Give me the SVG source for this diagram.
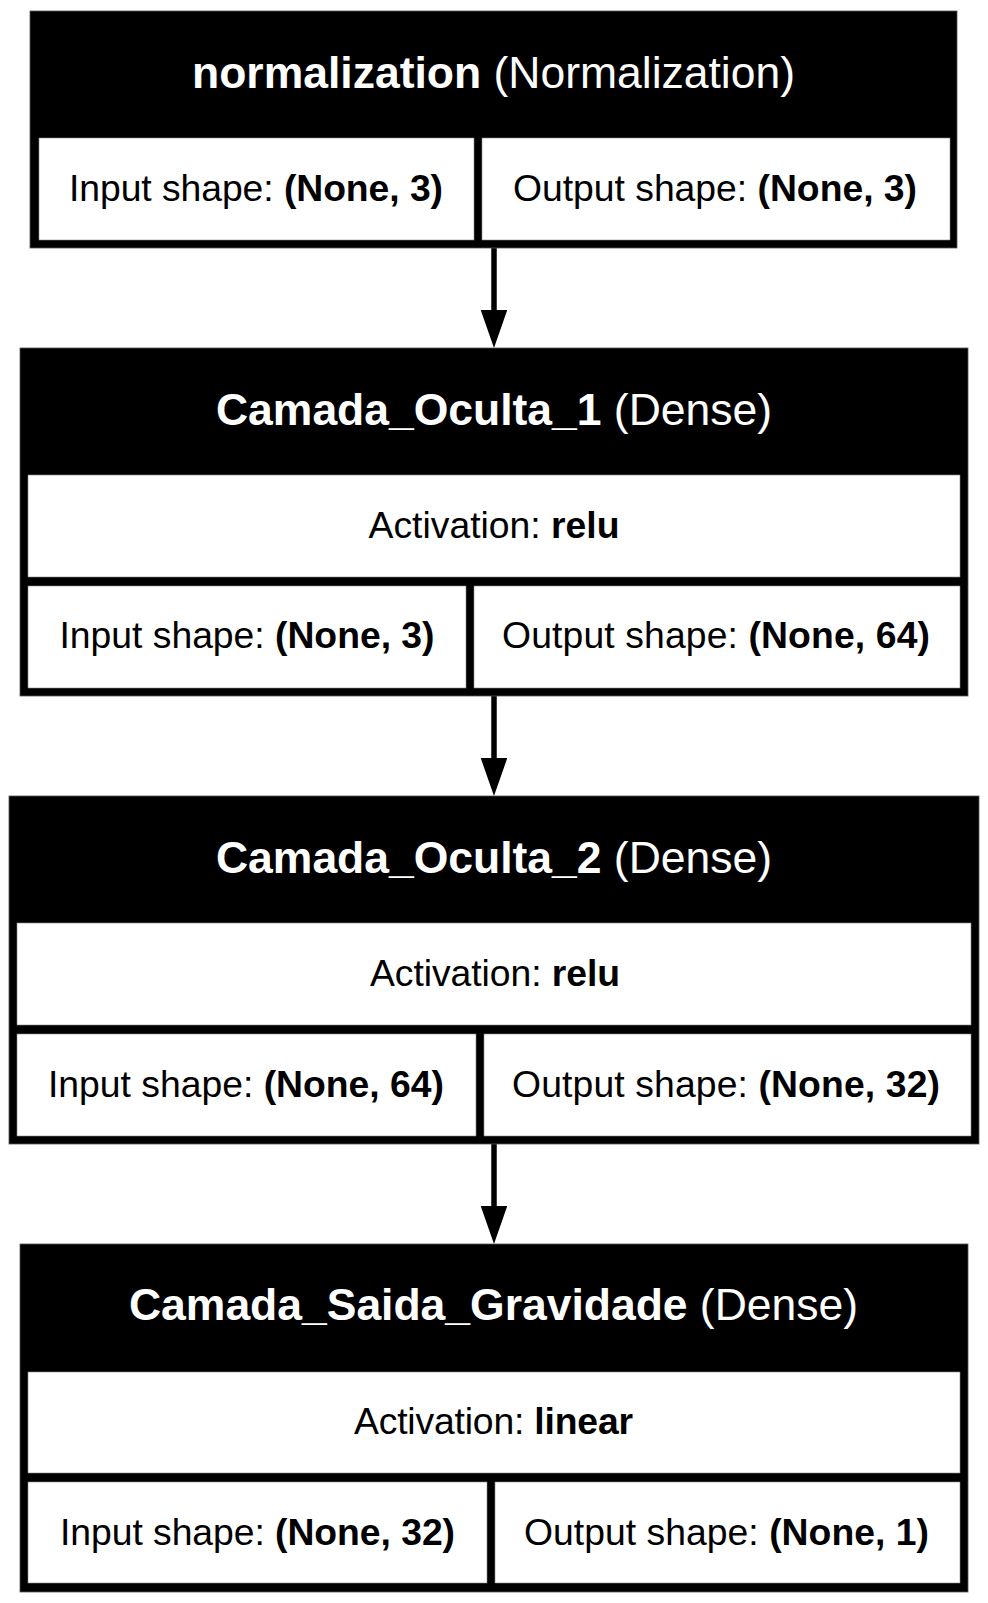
<svg xmlns="http://www.w3.org/2000/svg" width="988" height="1603" viewBox="0 0 988 1603">
<style>
.frame{fill:#000;stroke:#555;stroke-width:0.8}
.cell{fill:#fff;stroke:#888;stroke-width:0.6}
.hd{font-family:"Liberation Sans",Arial,sans-serif;font-size:44.5px;fill:#fff;text-anchor:middle}
.tx{font-family:"Liberation Sans",Arial,sans-serif;font-size:37.3px;fill:#000;text-anchor:middle}
.b{font-weight:bold}
.edge{stroke:#000;stroke-width:5.5;fill:none}
</style>
<defs>
<marker id="arrow" markerUnits="userSpaceOnUse" markerWidth="40" markerHeight="28" refX="0" refY="13.3" orient="auto">
<path d="M0,0 L38,13.3 L0,26.6 Z" fill="#000"/>
</marker>
</defs>
<rect width="988" height="1603" fill="#fff"/>

<g id="connectors">
<line class="edge" x1="494" y1="248" x2="494" y2="310" marker-end="url(#arrow)"/>
<line class="edge" x1="494" y1="696" x2="494" y2="758" marker-end="url(#arrow)"/>
<line class="edge" x1="494" y1="1144" x2="494" y2="1206" marker-end="url(#arrow)"/>
</g>

<g id="node-normalization">
<rect class="frame" x="30" y="11" width="927" height="237"/>
<rect class="cell" x="39" y="138" width="435" height="102"/>
<rect class="cell" x="482" y="138" width="468" height="102"/>
<text class="hd" x="493.5" y="88" textLength="603" lengthAdjust="spacing"><tspan class="b">normalization</tspan> (Normalization)</text>
<text class="tx" x="256" y="201" textLength="374" lengthAdjust="spacing">Input shape: <tspan class="b">(None, 3)</tspan></text>
<text class="tx" x="715" y="201" textLength="404" lengthAdjust="spacing">Output shape: <tspan class="b">(None, 3)</tspan></text>
</g>

<g id="node-camada-oculta-1">
<rect class="frame" x="20" y="348" width="948" height="348"/>
<rect class="cell" x="28" y="475" width="932" height="102"/>
<rect class="cell" x="28" y="586" width="438" height="102"/>
<rect class="cell" x="474" y="586" width="486" height="102"/>
<text class="hd" x="494" y="425" textLength="556" lengthAdjust="spacing"><tspan class="b">Camada_Oculta_1</tspan> (Dense)</text>
<text class="tx" x="494" y="538" textLength="251" lengthAdjust="spacing">Activation: <tspan class="b">relu</tspan></text>
<text class="tx" x="247" y="648" textLength="375" lengthAdjust="spacing">Input shape: <tspan class="b">(None, 3)</tspan></text>
<text class="tx" x="716" y="648" textLength="428" lengthAdjust="spacing">Output shape: <tspan class="b">(None, 64)</tspan></text>
</g>

<g id="node-camada-oculta-2">
<rect class="frame" x="9" y="796" width="970" height="348"/>
<rect class="cell" x="17" y="923" width="954" height="102"/>
<rect class="cell" x="17" y="1034" width="459" height="102"/>
<rect class="cell" x="484" y="1034" width="487" height="102"/>
<text class="hd" x="494" y="873" textLength="556" lengthAdjust="spacing"><tspan class="b">Camada_Oculta_2</tspan> (Dense)</text>
<text class="tx" x="495" y="986" textLength="250" lengthAdjust="spacing">Activation: <tspan class="b">relu</tspan></text>
<text class="tx" x="246" y="1097" textLength="396" lengthAdjust="spacing">Input shape: <tspan class="b">(None, 64)</tspan></text>
<text class="tx" x="726" y="1097" textLength="428" lengthAdjust="spacing">Output shape: <tspan class="b">(None, 32)</tspan></text>
</g>

<g id="node-camada-saida-gravidade">
<rect class="frame" x="20" y="1244" width="948" height="348"/>
<rect class="cell" x="28" y="1372" width="932" height="101"/>
<rect class="cell" x="28" y="1482" width="459" height="101"/>
<rect class="cell" x="495" y="1482" width="465" height="101"/>
<text class="hd" x="493.5" y="1320" textLength="729" lengthAdjust="spacing"><tspan class="b">Camada_Saida_Gravidade</tspan> (Dense)</text>
<text class="tx" x="493.5" y="1434" textLength="279" lengthAdjust="spacing">Activation: <tspan class="b">linear</tspan></text>
<text class="tx" x="257.5" y="1545" textLength="395" lengthAdjust="spacing">Input shape: <tspan class="b">(None, 32)</tspan></text>
<text class="tx" x="726.5" y="1545" textLength="405" lengthAdjust="spacing">Output shape: <tspan class="b">(None, 1)</tspan></text>
</g>
</svg>
